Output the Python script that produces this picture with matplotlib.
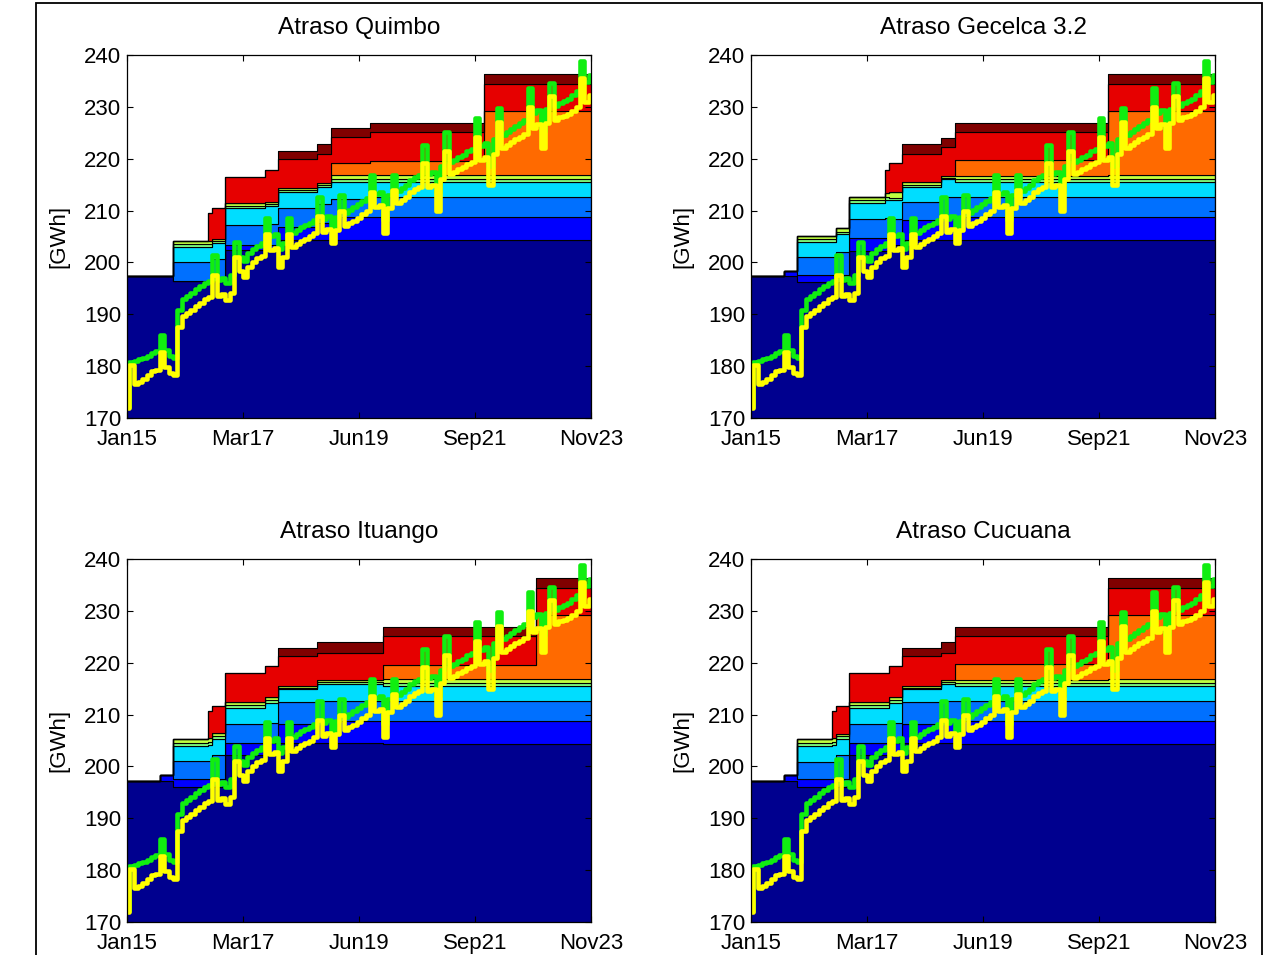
import numpy as np
import matplotlib
matplotlib.use('Agg')
import matplotlib.pyplot as plt
from matplotlib.patches import Rectangle

plt.rcParams['font.family'] = ['Liberation Sans', 'DejaVu Sans']

# ---------------- data ----------------
months = np.arange(107)                      # Jan15 .. Nov23 (monthly)
xtick_pos = [0, 26.5, 53, 79.5, 106]
xtick_labels = ['Jan15', 'Mar17', 'Jun19', 'Sep21', 'Nov23']
ytick_vals = [170, 180, 190, 200, 210, 220, 230, 240]

titles = ['Atraso Quimbo', 'Atraso Gecelca 3.2', 'Atraso Ituango', 'Atraso Cucuana']

layer_colors = ['#00008F', '#0000FF', '#0070FF', '#00DDFF', '#7FFF7F',
                '#BFFF40', '#FF6A00', '#E60000', '#800000']

# cumulative tops of stacked layers at months where they change
quimbo_change = [0, 11, 19, 20, 23, 32, 35, 44, 47, 56, 82]
quimbo_tops = [
    [197.3, 197.3, 197.3, 197.3, 197.3, 197.3, 197.3, 197.3, 197.3],
    [196.4, 196.4, 200.0, 202.9, 203.5, 204.1, 204.1, 204.1, 204.1],
    [196.4, 196.4, 200.0, 202.9, 203.5, 204.1, 204.1, 209.5, 209.5],
    [196.4, 196.4, 200.6, 203.8, 204.2, 204.6, 204.6, 210.4, 210.4],
    [202.4, 203.4, 207.2, 210.4, 210.9, 211.4, 211.4, 216.4, 216.4],
    [202.4, 203.4, 207.4, 210.8, 211.2, 211.7, 211.7, 217.8, 217.8],
    [204.3, 206.9, 210.4, 213.6, 213.9, 214.3, 214.3, 219.9, 221.4],
    [204.3, 207.6, 211.2, 214.6, 215.0, 215.4, 215.4, 220.9, 222.8],
    [204.3, 208.8, 212.2, 215.6, 216.1, 216.8, 219.1, 224.2, 226.0],
    [204.3, 208.8, 212.6, 215.6, 216.1, 216.8, 219.5, 225.2, 226.8],
    [204.3, 208.8, 212.6, 215.6, 216.1, 216.8, 229.2, 234.5, 236.4],
]

gecelca_change = [0, 8, 11, 20, 23, 31, 32, 35, 44, 47, 82]
gecelca_tops = [
    [197.3, 197.3, 197.3, 197.3, 197.3, 197.3, 197.3, 197.3, 197.3],
    [197.3, 198.3, 198.3, 198.3, 198.3, 198.3, 198.3, 198.3, 198.3],
    [196.3, 197.6, 201.1, 204.0, 204.5, 205.0, 205.0, 205.0, 205.0],
    [196.3, 197.6, 202.1, 205.4, 205.9, 206.6, 206.6, 206.6, 206.6],
    [202.3, 204.7, 208.3, 211.5, 212.0, 212.7, 212.7, 212.7, 212.7],
    [202.3, 204.7, 208.5, 212.0, 212.6, 213.3, 213.3, 217.8, 217.8],
    [203.3, 205.5, 208.4, 212.0, 212.5, 213.5, 213.5, 219.2, 219.2],
    [204.3, 208.2, 211.7, 214.6, 215.0, 215.6, 215.6, 221.0, 222.8],
    [204.3, 208.9, 212.7, 216.0, 216.3, 216.7, 216.7, 222.3, 223.9],
    [204.3, 208.8, 212.6, 215.6, 216.1, 216.7, 219.7, 225.2, 226.8],
    [204.3, 208.8, 212.6, 215.6, 216.1, 216.8, 229.2, 234.5, 236.4],
]

ituango_change = [0, 8, 11, 19, 20, 23, 32, 35, 44, 59, 94]
ituango_tops = [
    [197.1, 197.1, 197.1, 197.1, 197.1, 197.1, 197.1, 197.1, 197.1],
    [197.1, 198.3, 198.3, 198.3, 198.3, 198.3, 198.3, 198.3, 198.3],
    [196.1, 197.5, 201.1, 203.9, 204.5, 205.2, 205.2, 205.2, 205.2],
    [196.1, 197.5, 201.1, 204.2, 204.8, 205.4, 205.4, 210.6, 210.6],
    [196.1, 197.5, 202.2, 205.2, 205.8, 206.4, 206.4, 211.7, 211.7],
    [202.2, 204.5, 208.2, 211.3, 211.9, 212.5, 212.5, 218.0, 218.0],
    [202.2, 204.5, 208.4, 212.2, 212.8, 213.4, 213.4, 219.3, 219.3],
    [204.5, 208.1, 212.5, 214.9, 215.2, 215.6, 215.6, 221.2, 222.8],
    [204.5, 208.8, 212.6, 215.8, 216.2, 216.6, 216.6, 221.9, 223.9],
    [204.3, 208.8, 212.6, 215.6, 216.1, 216.8, 219.5, 225.2, 226.8],
    [204.3, 208.8, 212.6, 215.6, 216.1, 216.8, 229.2, 234.5, 236.4],
]

cucuana_change = [0, 8, 11, 19, 20, 23, 32, 35, 44, 47, 82]
cucuana_tops = [
    [197.1, 197.1, 197.1, 197.1, 197.1, 197.1, 197.1, 197.1, 197.1],
    [197.1, 198.3, 198.3, 198.3, 198.3, 198.3, 198.3, 198.3, 198.3],
    [196.1, 197.5, 200.9, 204.0, 204.6, 205.2, 205.2, 205.2, 205.2],
    [196.1, 197.5, 200.9, 204.2, 204.8, 205.4, 205.4, 210.6, 210.6],
    [196.1, 197.5, 202.2, 205.2, 205.8, 206.3, 206.3, 211.7, 211.7],
    [202.2, 204.5, 208.2, 211.3, 211.9, 212.5, 212.5, 218.0, 218.0],
    [202.2, 204.5, 208.4, 212.2, 212.8, 213.4, 213.4, 219.3, 219.3],
    [204.5, 208.1, 212.5, 214.9, 215.2, 215.6, 215.6, 221.2, 222.8],
    [204.5, 208.8, 212.6, 215.8, 216.2, 216.6, 216.6, 221.9, 223.9],
    [204.3, 208.8, 212.6, 215.6, 216.1, 216.7, 219.7, 225.2, 226.8],
    [204.3, 208.8, 212.6, 215.6, 216.1, 216.8, 229.2, 234.5, 236.4],
]

yellow = [171.9, 180.2, 176.6, 177.0, 177.6, 178.3, 179.0, 179.3, 182.8, 179.8,
          178.6, 178.2, 187.5, 189.6, 190.2, 190.9, 191.6, 192.2, 192.9, 193.4,
          197.5, 193.6, 194.0, 192.8, 194.2, 201.0, 198.4, 197.2, 199.2, 200.0,
          200.8, 201.3, 205.5, 202.4, 202.8, 199.2, 201.0, 205.5, 203.0, 203.6,
          204.1, 204.6, 205.0, 205.6, 209.0, 205.8, 206.5, 203.8, 206.2, 210.0,
          207.0, 207.6, 208.0, 208.6, 209.4, 210.0, 213.6, 210.7, 211.0, 205.6,
          210.5, 214.0, 211.4, 212.0, 212.6, 213.6, 214.2, 214.6, 219.1, 214.6,
          215.0, 210.0, 216.0, 221.5, 217.0, 217.5, 218.0, 218.4, 219.0, 219.4,
          224.2, 219.8, 220.4, 215.0, 221.0, 227.0, 222.0, 222.6, 223.3, 223.8,
          224.2, 224.8, 230.0, 226.0, 226.6, 222.0, 226.8, 232.0, 227.4, 228.0,
          228.3, 228.7, 229.2, 230.0, 235.5, 231.0, 232.3]

green = [172.2, 180.8, 181.0, 181.3, 181.6, 182.0, 182.6, 182.9, 186.0, 183.2,
         182.0, 181.6, 190.8, 193.0, 193.5, 194.2, 194.8, 195.4, 196.0, 196.5,
         201.5, 196.6, 197.0, 196.0, 197.6, 204.0, 201.0, 200.2, 201.8, 202.6,
         203.2, 203.8, 208.5, 205.0, 205.4, 202.6, 203.8, 208.5, 205.6, 206.2,
         206.8, 207.2, 207.6, 208.2, 212.6, 208.4, 209.0, 206.8, 208.8, 213.0,
         209.6, 210.2, 210.6, 211.2, 211.8, 212.4, 216.8, 213.2, 213.6, 208.2,
         213.0, 216.8, 213.8, 214.4, 215.0, 215.8, 216.4, 216.8, 222.6, 217.0,
         217.4, 213.6, 218.6, 225.2, 219.4, 219.8, 220.4, 220.8, 221.4, 221.8,
         227.8, 222.4, 223.0, 218.6, 223.8, 229.8, 224.6, 225.2, 225.8, 226.4,
         226.8, 227.4, 233.6, 228.8, 229.4, 225.4, 229.6, 234.6, 230.2, 230.8,
         231.2, 231.6, 232.2, 233.0, 238.8, 234.8, 236.1]

panels = [(quimbo_change, quimbo_tops), (gecelca_change, gecelca_tops),
          (ituango_change, ituango_tops), (cucuana_change, cucuana_tops)]

# ---------------- figure ----------------
W, H = 1283, 955
fig = plt.figure(figsize=(W / 100, H / 100), dpi=100)

ax_left = [127, 751]
ax_top = [55, 559]
aw, ah = 464, 363

for p, (change, tops) in enumerate(panels):
    row, col = divmod(p, 2)
    x0 = ax_left[col] / W
    y0 = 1 - (ax_top[row] + ah) / H
    ax = fig.add_axes([x0, y0, aw / W, ah / H])

    idx = np.searchsorted(change, months, side='right') - 1
    layer_tops = np.array(tops)[idx]
    lower = np.full(len(months), 150.0)
    for i, c in enumerate(layer_colors):
        upper = layer_tops[:, i]
        ax.fill_between(months, lower, upper, step='mid', facecolor=c,
                        edgecolor='black', linewidth=0.8)
        lower = upper

    ax.step(months, green, where='mid', color='#10EE10', linewidth=3.3)
    ax.step(months, yellow, where='mid', color='#FFFF00', linewidth=3.3)

    ax.set_xlim(0, 106)
    ax.set_ylim(170, 240)
    ax.set_xticks(xtick_pos)
    ax.set_xticklabels(xtick_labels)
    ax.set_yticks(ytick_vals)
    ax.tick_params(direction='in', length=4, width=0.8, top=True, right=True,
                   labelsize=16, colors='black')
    ax.tick_params(axis='x', pad=8)
    ax.tick_params(axis='y', pad=4)
    for s in ax.spines.values():
        s.set_linewidth(0.9)
    ax.set_title(titles[p], fontsize=17.6, pad=15)
    ax.set_ylabel('[GWh]', fontsize=16)
    ax.yaxis.set_label_coords(-0.125, 0.5)

# outer border of the original figure
fig.add_artist(Rectangle((36 / W, -0.1), (1262 - 36) / W, 1 - 3 / H + 0.1,
                         transform=fig.transFigure, fill=False,
                         edgecolor='black', linewidth=1.3, clip_on=False))

fig.savefig('out.png', dpi=100)
